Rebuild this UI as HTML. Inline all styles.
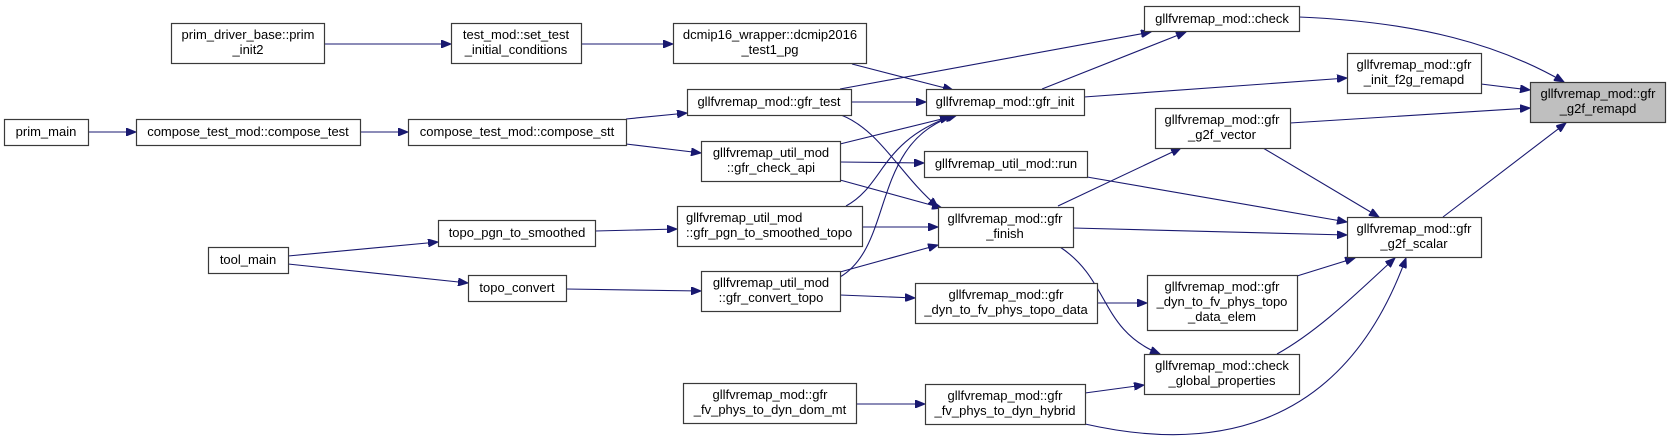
<!DOCTYPE html>
<html><head><meta charset="utf-8"><style>
html,body{margin:0;padding:0;background:#fff;}
svg{display:block;}
text{font-family:"Liberation Sans",Arial,sans-serif;font-size:13px;fill:#000;}
rect{fill:#fff;stroke:#3a3a3a;stroke-width:1.2;}
path{fill:none;stroke:#191970;stroke-width:1.1;}
</style></head><body>
<svg width="1671" height="440" viewBox="0 0 1671 440" xmlns="http://www.w3.org/2000/svg">
<defs>
<marker id="a" markerWidth="11" markerHeight="8" refX="10" refY="4" orient="auto" markerUnits="userSpaceOnUse">
<path d="M0,0 L10,4 L0,8 Z" style="fill:#191970;stroke:#191970;stroke-width:1"/>
</marker>
</defs>
<g marker-end="url(#a)">
<path d="M324,44 L451,44"/>
<path d="M581,44 L673,44"/>
<path d="M852,64 L953,90"/>
<path d="M88,132 L136,132"/>
<path d="M360,132 L408,132"/>
<path d="M626,119 L687,113"/>
<path d="M626,144 L701,153"/>
<path d="M840,89 L1151,32"/>
<path d="M851,102 L926,102"/>
<path d="M841,115 C880,130 900,175 938,207"/>
<path d="M1042,89 L1186,32"/>
<path d="M1084,97 L1347,78"/>
<path d="M1299,17 C1420,22 1500,45 1564,82"/>
<path d="M1481,84 L1530,90"/>
<path d="M1290,123 L1530,108"/>
<path d="M1263,148 L1379,217"/>
<path d="M1443,217 L1566,123"/>
<path d="M840,144 L950,117"/>
<path d="M840,162 L924,163"/>
<path d="M840,180 L942,208"/>
<path d="M1087,177 L1347,222"/>
<path d="M595,231 L677,229"/>
<path d="M846,206 C885,185 880,140 955,115"/>
<path d="M862,227 L938,227"/>
<path d="M288,256 L438,242"/>
<path d="M288,264 L468,283"/>
<path d="M566,289 L701,291"/>
<path d="M840,277 C895,245 870,140 957,115"/>
<path d="M840,272 L938,245"/>
<path d="M840,295 L915,298"/>
<path d="M1058,206 L1181,148"/>
<path d="M1073,228 L1347,235"/>
<path d="M1060,247 C1110,280 1100,330 1160,354"/>
<path d="M1097,303 L1147,303"/>
<path d="M1297,276 L1355,258"/>
<path d="M1277,354 C1320,330 1360,290 1395,258"/>
<path d="M856,404 L925,404"/>
<path d="M1085,393 L1144,385"/>
<path d="M1085,424 C1200,450 1340,440 1406,258"/>
</g>
<g>
<rect x="171.5" y="23.5" width="153" height="40"/>
<text x="248" y="39" text-anchor="middle">prim_driver_base::prim</text><text x="248" y="54" text-anchor="middle">_init2</text>
<rect x="451.5" y="23.5" width="130" height="40"/>
<text x="516" y="39" text-anchor="middle">test_mod::set_test</text><text x="516" y="54" text-anchor="middle">_initial_conditions</text>
<rect x="673.5" y="23.5" width="193" height="40"/>
<text x="770" y="39" text-anchor="middle">dcmip16_wrapper::dcmip2016</text><text x="770" y="54" text-anchor="middle">_test1_pg</text>
<rect x="1144.5" y="6.5" width="155" height="25"/>
<text x="1222" y="23" text-anchor="middle">gllfvremap_mod::check</text>
<rect x="1347.5" y="53.5" width="134" height="40"/>
<text x="1414" y="69" text-anchor="middle">gllfvremap_mod::gfr</text><text x="1414" y="84" text-anchor="middle">_init_f2g_remapd</text>
<rect x="1530.5" y="82.5" width="135" height="40" style="fill:#bfbfbf"/>
<text x="1598" y="98" text-anchor="middle">gllfvremap_mod::gfr</text><text x="1598" y="113" text-anchor="middle">_g2f_remapd</text>
<rect x="4.5" y="119.5" width="84" height="26"/>
<text x="46" y="136" text-anchor="middle">prim_main</text>
<rect x="136.5" y="119.5" width="224" height="26"/>
<text x="248" y="136" text-anchor="middle">compose_test_mod::compose_test</text>
<rect x="408.5" y="119.5" width="218" height="26"/>
<text x="517" y="136" text-anchor="middle">compose_test_mod::compose_stt</text>
<rect x="687.5" y="89.5" width="164" height="26"/>
<text x="769" y="106" text-anchor="middle">gllfvremap_mod::gfr_test</text>
<rect x="926.5" y="89.5" width="158" height="26"/>
<text x="1005" y="106" text-anchor="middle">gllfvremap_mod::gfr_init</text>
<rect x="1155.5" y="108.5" width="135" height="40"/>
<text x="1222" y="124" text-anchor="middle">gllfvremap_mod::gfr</text><text x="1222" y="139" text-anchor="middle">_g2f_vector</text>
<rect x="701.5" y="141.5" width="139" height="40"/>
<text x="771" y="157" text-anchor="middle">gllfvremap_util_mod</text><text x="771" y="172" text-anchor="middle">::gfr_check_api</text>
<rect x="924.5" y="151.5" width="163" height="26"/>
<text x="1006" y="168" text-anchor="middle">gllfvremap_util_mod::run</text>
<rect x="438.5" y="220.5" width="157" height="26"/>
<text x="517" y="237" text-anchor="middle">topo_pgn_to_smoothed</text>
<rect x="677.5" y="206.5" width="185" height="40"/>
<text x="686" y="222">gllfvremap_util_mod</text><text x="686" y="237">::gfr_pgn_to_smoothed_topo</text>
<rect x="938.5" y="207.5" width="135" height="40"/>
<text x="1005" y="223" text-anchor="middle">gllfvremap_mod::gfr</text><text x="1005" y="238" text-anchor="middle">_finish</text>
<rect x="1347.5" y="217.5" width="134" height="40"/>
<text x="1414" y="233" text-anchor="middle">gllfvremap_mod::gfr</text><text x="1414" y="248" text-anchor="middle">_g2f_scalar</text>
<rect x="208.5" y="247.5" width="80" height="26"/>
<text x="248" y="264" text-anchor="middle">tool_main</text>
<rect x="468.5" y="275.5" width="98" height="26"/>
<text x="517" y="292" text-anchor="middle">topo_convert</text>
<rect x="701.5" y="271.5" width="139" height="40"/>
<text x="771" y="287" text-anchor="middle">gllfvremap_util_mod</text><text x="771" y="302" text-anchor="middle">::gfr_convert_topo</text>
<rect x="915.5" y="283.5" width="182" height="40"/>
<text x="1006" y="299" text-anchor="middle">gllfvremap_mod::gfr</text><text x="1006" y="314" text-anchor="middle">_dyn_to_fv_phys_topo_data</text>
<rect x="1147.5" y="275.5" width="150" height="55"/>
<text x="1222" y="291" text-anchor="middle">gllfvremap_mod::gfr</text><text x="1222" y="306" text-anchor="middle">_dyn_to_fv_phys_topo</text><text x="1222" y="321" text-anchor="middle">_data_elem</text>
<rect x="1144.5" y="354.5" width="155" height="40"/>
<text x="1222" y="370" text-anchor="middle">gllfvremap_mod::check</text><text x="1222" y="385" text-anchor="middle">_global_properties</text>
<rect x="683.5" y="383.5" width="173" height="40"/>
<text x="770" y="399" text-anchor="middle">gllfvremap_mod::gfr</text><text x="770" y="414" text-anchor="middle">_fv_phys_to_dyn_dom_mt</text>
<rect x="925.5" y="384.5" width="160" height="40"/>
<text x="1005" y="400" text-anchor="middle">gllfvremap_mod::gfr</text><text x="1005" y="415" text-anchor="middle">_fv_phys_to_dyn_hybrid</text>
</g>
</svg>
</body></html>
